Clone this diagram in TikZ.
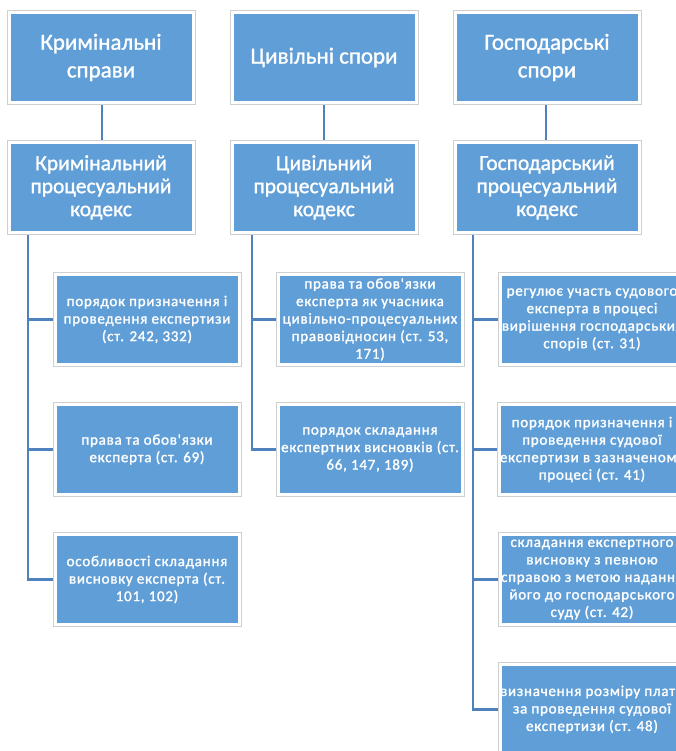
\documentclass[tikz,border=0pt]{standalone}
\usepackage{fontspec}
\setmainfont{Carlito}
\newfontfamily\headfont[RawFeature={embolden=1.2}]{Carlito}
\newfontfamily\itemfont[LetterSpace=5,RawFeature={embolden=1.5}]{Carlito}
\usetikzlibrary{backgrounds}
\definecolor{boxblue}{HTML}{5F9ED6}
\definecolor{linkblue}{HTML}{4F81BD}
\definecolor{rimgray}{HTML}{CFCFCF}
\tikzset{
  bx/.style={rectangle, minimum width=184pt, minimum height=90pt, fill=boxblue,
    draw=white, line width=3pt, preaction={draw=rimgray, line width=5pt},
    text=white, align=center, inner sep=0pt},
  head/.style={bx, font=\headfont\fontsize{23}{27.7}\selectfont},
  code/.style={bx, font=\headfont\fontsize{21.5}{23}\selectfont},
  item/.style={bx, font=\itemfont\fontsize{15}{17.5}\selectfont},
  link/.style={draw=linkblue, line width=2.5pt}
}
\begin{document}
\begin{tikzpicture}[x=1pt,y=-1pt]
\useasboundingbox (0,0) rectangle (676,751);
\clip (0,0) rectangle (676,751);
% top row
\node[head] (t1) at (101,57.5) {Кримінальні\\справи};
\node[head] (t2) at (324,57.5) {Цивільні спори};
\node[head] (t3) at (547,57.5) {Господарські\\спори};
% codes
\node[code] (k1) at (101,187.5) {Кримінальний\\процесуальний\\кодекс};
\node[code] (k2) at (324,187.5) {Цивільний\\процесуальний\\кодекс};
\node[code] (k3) at (547,187.5) {Господарський\\процесуальний\\кодекс};
% spine coordinates
\coordinate (s1) at (28,235);
\coordinate (s2) at (252,235);
\coordinate (s3) at (473,235);
% left items
\node[item] (a1) at (147,319.5) {порядок призначення і\\проведення експертизи\\(ст. 242, 332)};
\node[item] (a2) at (147,449.5) {права та обов'язки\\експерта (ст. 69)};
\node[item] (a3) at (147,579.5) {особливості складання\\висновку експерта (ст.\\101, 102)};
% middle items
\node[item] (b1) at (370,319.5) {права та обов'язки\\експерта як учасника\\цивільно-процесуальних\\правовідносин (ст. 53,\\171)};
\node[item] (b2) at (370,449.5) {порядок складання\\експертних висновків (ст.\\66, 147, 189)};
% right items
\node[item] (c1) at (592,319.5) {регулює участь судового\\експерта в процесі\\вирішення господарських\\спорів (ст. 31)};
\node[item] (c2) at (592,449.5) {порядок призначення і\\проведення судової\\експертизи в зазначеному\\процесі (ст. 41)};
\node[item] (c3) at (592,579.5) {складання експертного\\висновку з певною\\справою з метою надання\\його до господарського\\суду (ст. 42)};
\node[item] (c4) at (592,709.5) {визначення розміру плати\\за проведення судової\\експертизи (ст. 48)};
\begin{scope}[on background layer]
\draw[link] (t1.south -| 102,0) -- (k1.north -| 102,0);
\draw[link] (t2) -- (k2);
\draw[link] (t3.south -| 546,0) -- (k3.north -| 546,0);
\draw[link] (s1) |- (a1.west);
\draw[link] (s1) |- (a2.west);
\draw[link] (s1) |- (a3.west);
\draw[link] (s2) |- (b1.west);
\draw[link] (s2) |- (b2.west);
\draw[link] (s3) |- (c1.west);
\draw[link] (s3) |- (c2.west);
\draw[link] (s3) |- (c3.west);
\draw[link] (s3) |- (c4.west);
\end{scope}
\end{tikzpicture}
\end{document}
